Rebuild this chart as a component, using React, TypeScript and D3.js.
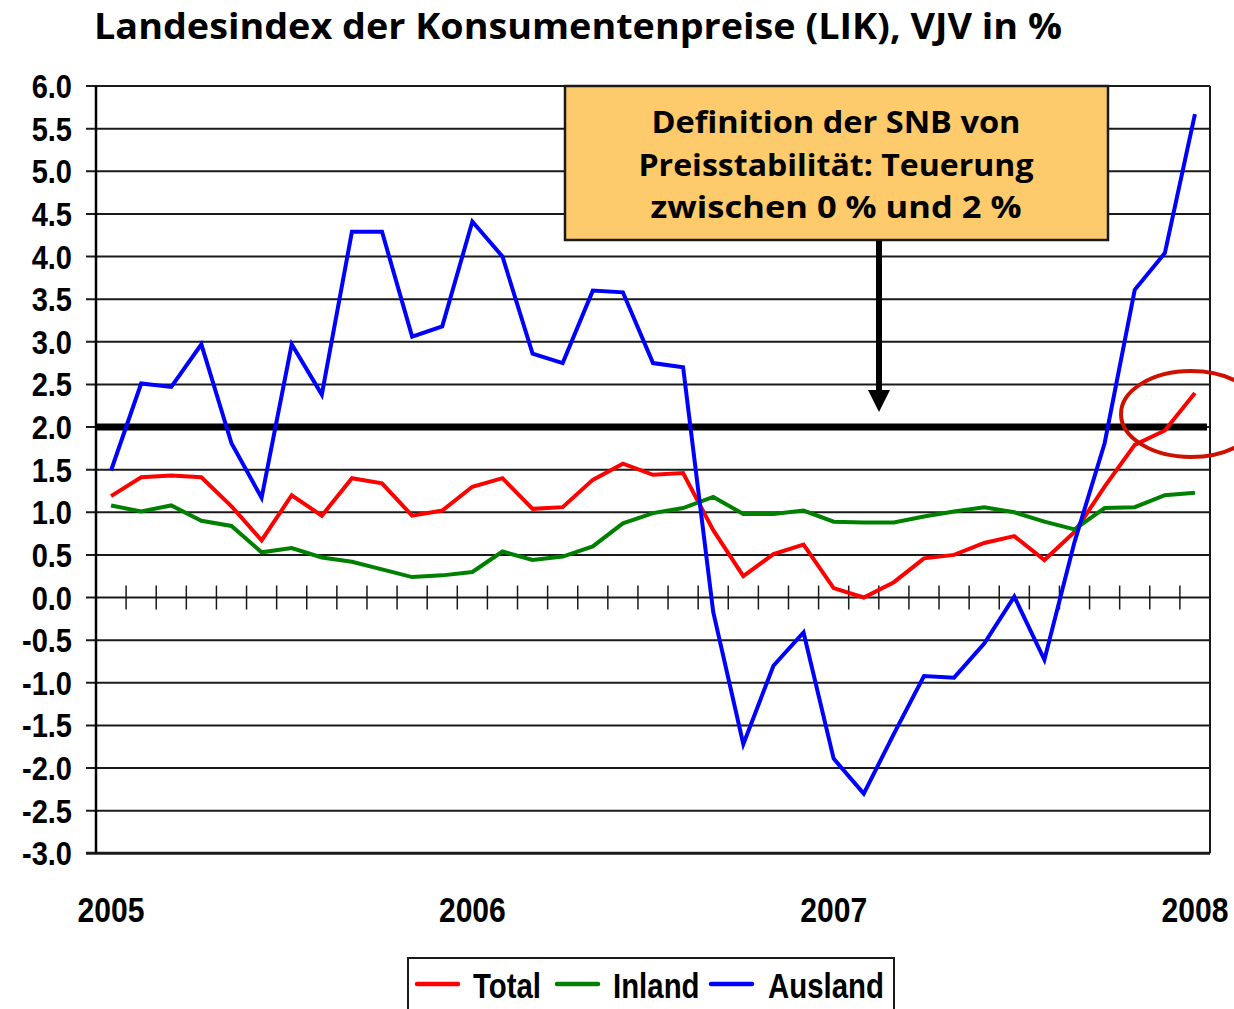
import React from "react";
import * as d3 from "d3";

const months: Date[] = d3.timeMonths(new Date(2005, 0, 1), new Date(2008, 1, 1));
const yearLabels = ["2005", "2006", "2007", "2008"];
const yearIndex = [0, 12, 24, 36];
const yTicks = [6.0, 5.5, 5.0, 4.5, 4.0, 3.5, 3.0, 2.5, 2.0, 1.5, 1.0, 0.5, 0.0, -0.5, -1.0, -1.5, -2.0, -2.5, -3.0];

const total = [1.19, 1.41, 1.43, 1.41, 1.07, 0.67, 1.2, 0.96, 1.4, 1.34, 0.96, 1.02, 1.3, 1.4, 1.04, 1.06, 1.38, 1.57, 1.44, 1.46, 0.79, 0.25, 0.51, 0.62, 0.11, 0.0, 0.18, 0.46, 0.5, 0.64, 0.72, 0.44, 0.77, 1.3, 1.79, 1.96, 2.4];
const inland = [1.08, 1.01, 1.08, 0.9, 0.84, 0.53, 0.58, 0.47, 0.42, 0.33, 0.24, 0.26, 0.3, 0.54, 0.44, 0.48, 0.6, 0.87, 0.99, 1.05, 1.18, 0.98, 0.98, 1.02, 0.89, 0.88, 0.88, 0.95, 1.01, 1.06, 1.0, 0.89, 0.8, 1.05, 1.06, 1.2, 1.23];
const ausland = [1.49, 2.51, 2.47, 2.97, 1.81, 1.17, 2.97, 2.38, 4.29, 4.29, 3.06, 3.18, 4.41, 4.0, 2.86, 2.75, 3.6, 3.58, 2.75, 2.7, -0.17, -1.72, -0.8, -0.41, -1.89, -2.3, -1.6, -0.92, -0.94, -0.54, 0.01, -0.73, 0.65, 1.81, 3.61, 4.04, 5.67];

const seriesNames = ["Total", "Inland", "Ausland"];
const seriesColors = ["#ff0000", "#008000", "#0000ff"];
const targetLevel = 2.0;
const titleText = "Landesindex der Konsumentenpreise (LIK), VJV in %";
const boxLines = ["Definition der SNB von", "Preisstabilität: Teuerung", "zwischen 0 % und 2 %"];

const W = 1234;
const H = 1009;
const left = 96;
const right = 1210;
const top = 86;
const bottom = 853.3;

export default function App() {
  const x = d3.scaleBand<number>().domain(d3.range(months.length)).range([left, right]).padding(0);
  const y = d3.scaleLinear().domain([-3, 6]).range([bottom, top]);
  const cx = (i: number) => (x(i) as number) + x.bandwidth() / 2;
  const line = d3
    .line<number>()
    .x((_, i) => cx(i))
    .y((d) => y(d));
  const series = [total, inland, ausland];
  const numFont = "'Liberation Sans', Arial, sans-serif";
  const boxFont = "'Open Sans', 'Noto Sans', sans-serif";
  const y0 = y(0);
  const boundaries = d3.range(1, months.length);

  return (
    <svg width={W} height={H} style={{ position: "absolute", left: 0, top: 0, background: "#fff" }}>
      <rect x={0} y={0} width={W} height={H} fill="#fff" />
      {/* title */}
      <text x={94} y={39} fontFamily={boxFont} fontWeight={700} fontSize={36} textLength={968} lengthAdjust="spacingAndGlyphs" fill="#000">
        {titleText}
      </text>

      {/* gridlines */}
      {yTicks.map((t) => (
        <line key={"g" + t} x1={left - 10} x2={right} y1={y(t)} y2={y(t)} stroke="#1a1a1a" strokeWidth={t === -3 ? 3 : 2} />
      ))}
      {/* plot borders */}
      <line x1={left} x2={left} y1={top} y2={bottom} stroke="#000" strokeWidth={2.5} />
      <line x1={right} x2={right} y1={top} y2={bottom} stroke="#1a1a1a" strokeWidth={2} />

      {/* y labels */}
      {yTicks.map((t) => (
        <text
          key={"yl" + t}
          transform={`translate(72,${y(t) + 12}) scale(0.88,1)`}
          textAnchor="end"
          fontFamily={numFont}
          fontWeight={700}
          fontSize={33}
          fill="#000"
        >
          {t.toFixed(1)}
        </text>
      ))}

      {/* zero axis ticks */}
      {boundaries.map((i) => (
        <line key={"tk" + i} x1={x(i) as number} x2={x(i) as number} y1={y0 - 12} y2={y0 + 12} stroke="#1a1a1a" strokeWidth={1.5} />
      ))}

      {/* year labels */}
      {yearLabels.map((lab, k) => (
        <text
          key={lab}
          transform={`translate(${cx(yearIndex[k])},${922}) scale(0.86,1)`}
          textAnchor="middle"
          fontFamily={numFont}
          fontWeight={700}
          fontSize={35}
          fill="#000"
        >
          {lab}
        </text>
      ))}

      {/* target line at 2 % */}
      <line x1={left} x2={right - 3} y1={y(targetLevel)} y2={y(targetLevel)} stroke="#000" strokeWidth={7} />

      {/* series */}
      {series.map((s, k) => (
        <path key={seriesNames[k]} d={line(s) as string} fill="none" stroke={seriesColors[k]} strokeWidth={4} strokeLinejoin="miter" />
      ))}

      {/* circle highlight */}
      <ellipse cx={1191} cy={414} rx={70} ry={43} fill="none" stroke="#cc1100" strokeWidth={4} />

      {/* annotation box */}
      <rect x={565} y={86} width={543} height={154} fill="#fdca6c" stroke="#1a1a1a" strokeWidth={2.5} />
      {boxLines.map((l, k) => (
        <text
          key={l}
          x={836}
          y={133 + k * 42.5}
          textAnchor="middle"
          fontFamily={boxFont}
          fontWeight={700}
          fontSize={31}
          textLength={[369, 395, 371][k]}
          lengthAdjust="spacingAndGlyphs"
          fill="#000"
        >
          {l}
        </text>
      ))}
      {/* arrow */}
      <line x1={879} x2={879} y1={241} y2={392} stroke="#000" strokeWidth={6} />
      <path d="M868,390 L890,390 L879,412 Z" fill="#000" />

      {/* legend */}
      <rect x={408} y={958} width={486} height={60} fill="#fff" stroke="#1a1a1a" strokeWidth={2} />
      {seriesNames.map((n, k) => {
        const lx = [417, 557, 711][k];
        const tx = [473, 613, 768][k];
        return (
          <g key={"lg" + n}>
            <line x1={lx} x2={lx + 41} y1={984} y2={984} stroke={seriesColors[k]} strokeWidth={4.5} strokeLinecap="round" />
            <text
              transform={`translate(${tx},998) scale(0.84,1)`}
              fontFamily={numFont}
              fontWeight={700}
              fontSize={35}
              fill="#000"
            >
              {n}
            </text>
          </g>
        );
      })}
    </svg>
  );
}
